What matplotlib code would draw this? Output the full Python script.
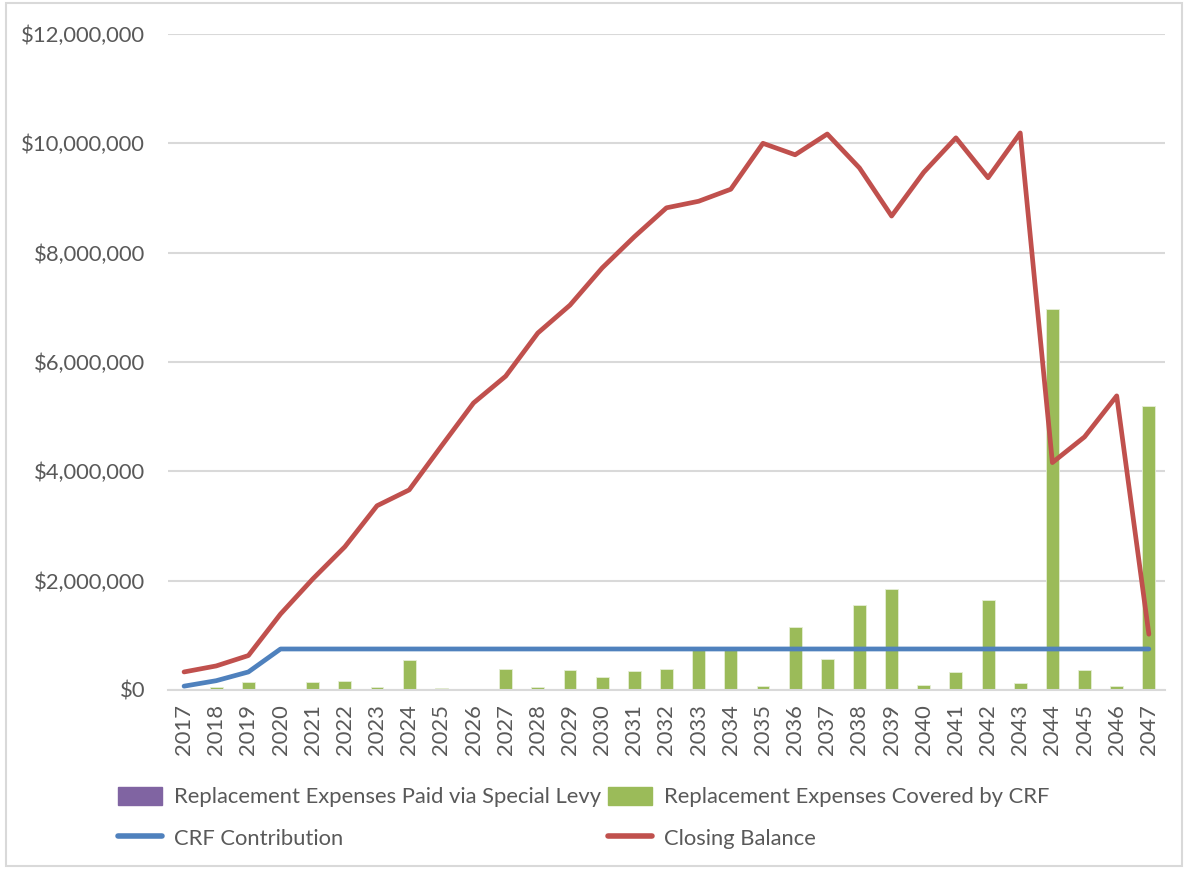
import matplotlib.pyplot as plt
from matplotlib.patches import Rectangle, Patch
from matplotlib.lines import Line2D
from matplotlib.ticker import FuncFormatter

years = [str(y) for y in range(2017, 2048)]

# replacement expenses paid via special levy (none in this projection)
special_levy = [0] * 31

# replacement expenses covered by CRF
covered_by_crf = [0, 50000, 150000, 20000, 140000, 170000, 60000, 540000, 40000, 20000,
                  380000, 60000, 360000, 230000, 340000, 380000, 790000, 750000, 70000, 1160000,
                  560000, 1560000, 1840000, 100000, 330000, 1650000, 130000, 6970000, 370000, 80000,
                  5190000]

crf_contribution = [70000, 170000, 330000] + [750000] * 28

closing_balance = [330000, 440000, 630000, 1390000, 2030000, 2620000, 3370000, 3660000, 4460000, 5250000,
                   5740000, 6530000, 7040000, 7720000, 8290000, 8820000, 8940000, 9160000, 10000000, 9790000,
                   10170000, 9550000, 8670000, 9470000, 10100000, 9370000, 10190000, 4160000, 4630000, 5380000,
                   1020000]

purple = '#8064A2'
green = '#9BBB59'
blue = '#4F81BD'
red = '#C0504D'
grey = '#595959'

plt.rcParams['font.family'] = ['Lato', 'DejaVu Sans']
fs = 15.8

fig = plt.figure(figsize=(11.88, 8.69), dpi=100)
ax = fig.add_axes([0.1414, 0.2060, 0.8392, 0.7549])

x = list(range(len(years)))
ax.bar(x, special_levy, width=0.4, color=purple, zorder=2)
ax.bar(x, covered_by_crf, width=0.4, color=green, edgecolor='#E6EED5', linewidth=0.6, zorder=2)
ax.plot(x, crf_contribution, color=blue, linewidth=3.4, solid_capstyle='round', zorder=3)
ax.plot(x, closing_balance, color=red, linewidth=3.4, solid_capstyle='round',
        solid_joinstyle='round', zorder=4)

ax.set_xlim(-0.5, len(years) - 0.5)
ax.set_ylim(0, 12000000)
ax.set_yticks(range(0, 12000001, 2000000))
ax.yaxis.set_major_formatter(FuncFormatter(lambda v, p: '${:,.0f}'.format(v)))
ax.set_xticks(x)
ax.set_xticklabels(years, rotation=90)
ax.tick_params(axis='both', length=0, labelsize=fs, labelcolor=grey)
ax.tick_params(axis='y', pad=16.5)
ax.tick_params(axis='x', pad=10)

ax.grid(axis='y', color='#D9D9D9', linewidth=1.5, zorder=0)
ax.set_axisbelow(True)
for side in ['top', 'right', 'left']:
    ax.spines[side].set_visible(False)
ax.spines['bottom'].set_color('#D9D9D9')
ax.spines['bottom'].set_linewidth(1.5)

handles = [Patch(color=purple), Line2D([], [], color=blue, linewidth=4, solid_capstyle='round'),
           Patch(color=green), Line2D([], [], color=red, linewidth=4, solid_capstyle='round')]
labels = ['Replacement Expenses Paid via Special Levy', 'CRF Contribution',
          'Replacement Expenses Covered by CRF', 'Closing Balance']
fig.legend(handles, labels, loc='upper left', bbox_to_anchor=(0.092, 0.105), ncol=2,
           frameon=False, fontsize=fs, labelcolor=grey, handlelength=2.0, handleheight=0.9,
           handletextpad=0.55, columnspacing=0.3, labelspacing=0.95, borderaxespad=0)

# light frame around the whole chart
fig.patches.append(Rectangle((0.005, 0.004), 0.99, 0.992, transform=fig.transFigure,
                             fill=False, edgecolor='#D9D9D9', linewidth=1.5))

plt.savefig('out.png', dpi=100)
